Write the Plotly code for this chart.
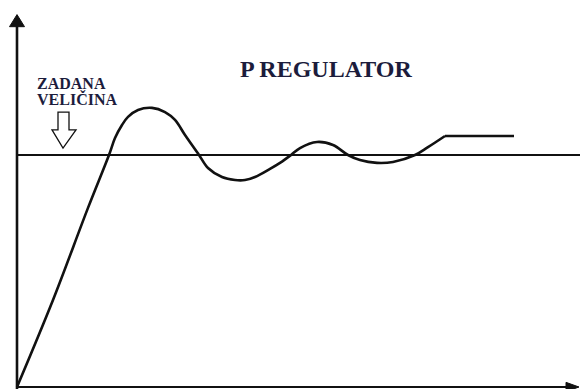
import plotly.graph_objects as go

# ---- data (time in arbitrary units, response relative to setpoint = 1) ----
time = [0.0, 3.6, 7.1, 9.2, 9.8, 10.5, 11.1, 12.1, 13.5, 14.8, 15.8, 16.8,
        18.2, 19.1, 20.5, 21.8, 22.8, 23.8, 25.3, 26.3, 27.4, 28.3, 30.0, 31.6, 33.1,
        34.3, 36.0, 37.6, 39.8, 41.1, 42.8]
response = [0.0, 0.375, 0.772, 1.0, 1.073, 1.129, 1.164, 1.194, 1.203, 1.185, 1.151, 1.086,
            1.0, 0.944, 0.905, 0.892, 0.892, 0.905, 0.94, 0.966, 1.0, 1.03,
            1.056, 1.043, 1.0, 0.978, 0.966, 0.97, 1.0, 1.034, 1.082]
tail_time = [42.8, 49.7]
tail_response = [1.082, 1.082]
setpoint = 1.0
title_text = "P REGULATOR"
label_lines = ["ZADANA", "VELIČINA"]

X_RANGE = [-1.7, 56.3]
Y_RANGE = [-0.0086, 1.668]
INK = "#111111"
TEXT = "#1c1c3c"

fig = go.Figure()
fig.add_trace(go.Scatter(x=time, y=response, mode="lines",
                         line=dict(color=INK, width=2.6, shape="spline", smoothing=1.0),
                         hoverinfo="skip", showlegend=False))
fig.add_trace(go.Scatter(x=tail_time, y=tail_response, mode="lines",
                         line=dict(color=INK, width=2.6),
                         hoverinfo="skip", showlegend=False))

shapes = []
# setpoint line
shapes.append(dict(type="line", xref="x", yref="y", x0=0, x1=X_RANGE[1], y0=setpoint, y1=setpoint,
                   line=dict(color=INK, width=2.2)))
# y axis
shapes.append(dict(type="line", xref="x", yref="y", x0=0, x1=0, y0=Y_RANGE[0], y1=1.58,
                   line=dict(color=INK, width=2.6)))
shapes.append(dict(type="path", xref="x", yref="y",
                   path="M -0.75 1.553 L 0 1.605 L 0.75 1.553 Z",
                   fillcolor=INK, line=dict(color=INK, width=1)))
# x axis
shapes.append(dict(type="line", xref="x", yref="y", x0=0, x1=55.5, y0=0, y1=0,
                   line=dict(color=INK, width=2.2)))
shapes.append(dict(type="path", xref="x", yref="y",
                   path="M 54.9 0.02 L 56.2 0.0 L 54.9 -0.02 Z",
                   fillcolor=INK, line=dict(color=INK, width=1)))
# hollow arrow pointing at setpoint
shapes.append(dict(type="path", xref="x", yref="y",
                   path="M 4.1 1.185 L 5.2 1.185 L 5.2 1.108 L 5.9 1.108 L 4.6 1.030 "
                        "L 3.5 1.108 L 4.1 1.108 Z",
                   fillcolor="white", line=dict(color=INK, width=1.3)))
fig.update_layout(shapes=shapes)

fig.add_annotation(x=30.9, y=1.369, xref="x", yref="y", text="<b>%s</b>" % title_text,
                   showarrow=False, font=dict(family="Liberation Serif", size=24, color=TEXT))
fig.add_annotation(x=1.8, y=1.31, xref="x", yref="y", text="<b>%s</b>" % label_lines[0],
                   showarrow=False, xanchor="left",
                   font=dict(family="Liberation Serif", size=16, color=TEXT))
fig.add_annotation(x=1.8, y=1.243, xref="x", yref="y", text="<b>%s</b>" % label_lines[1],
                   showarrow=False, xanchor="left",
                   font=dict(family="Liberation Serif", size=16, color=TEXT))

fig.update_xaxes(range=X_RANGE, visible=False, fixedrange=True)
fig.update_yaxes(range=Y_RANGE, visible=False, fixedrange=True)
fig.update_layout(width=580, height=389, margin=dict(l=0, r=0, t=0, b=0),
                  paper_bgcolor="white", plot_bgcolor="white")
fig.write_html("out.html", config={"displayModeBar": False},
               post_script="document.body.style.margin='0';document.body.style.overflow='hidden';")
